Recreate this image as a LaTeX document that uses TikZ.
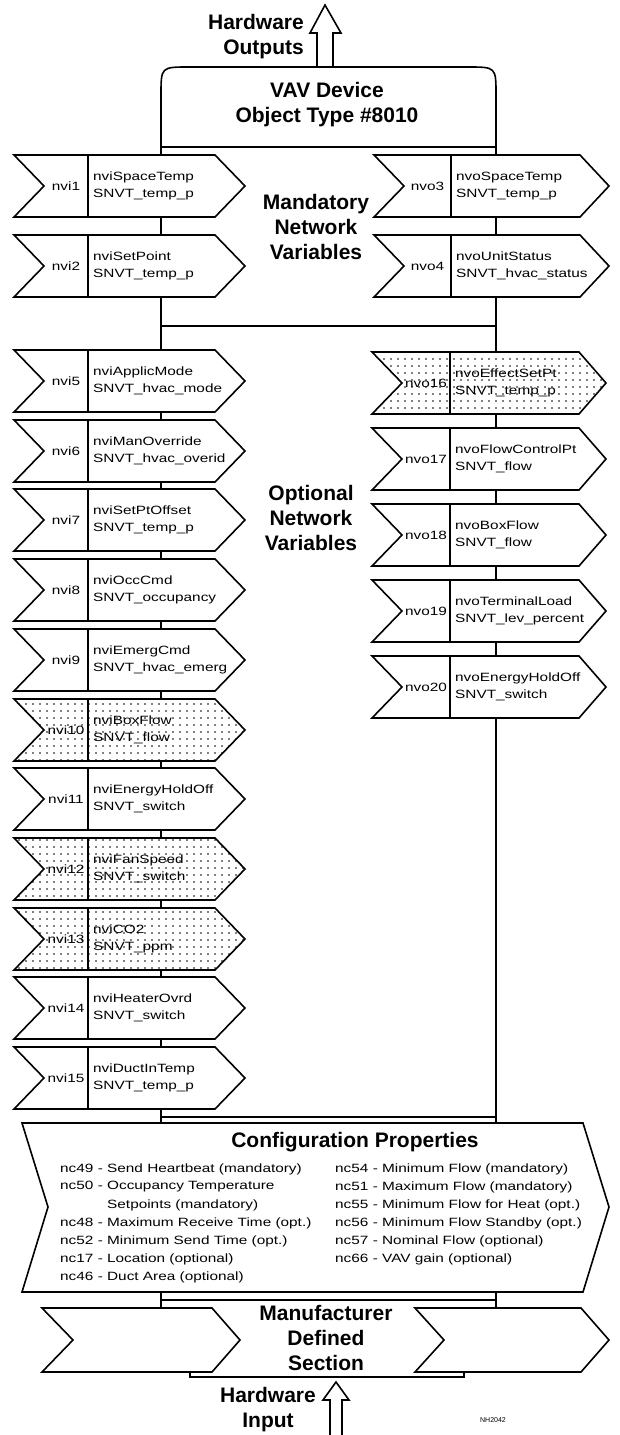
\documentclass[tikz,border=0pt]{standalone}
\usepackage{fontspec}
\setmainfont{Liberation Sans}
\newfontfamily\bxfont[FakeStretch=1.28]{Liberation Sans}
\usetikzlibrary{patterns.meta}
\tikzset{
  ln/.style={line width=1.6pt, line join=miter},
  nvshape/.style={ln, draw=black, fill=white},
  dotshade/.style={postaction={pattern={Dots[distance=6.5pt,radius=0.95pt]}}},
  nvlabel/.style={font=\bxfont\fontsize{12}{14}\selectfont, inner sep=0pt},
  nvtext/.style={font=\bxfont\fontsize{12}{17}\selectfont, align=left, inner sep=0pt, anchor=west},
  head/.style={font=\bfseries\fontsize{21}{25}\selectfont, align=center, inner sep=0pt},
  cfg/.style={font=\bxfont\fontsize{12}{14}\selectfont, inner sep=0pt, anchor=west},
  bus/.style={line width=1.6pt},
}
\newcommand{\nvb}[9]{%
  \pgfmathsetmacro\nvB{#6+62}%
  \pgfmathsetmacro\nvM{#6+31}%
  \pgfmathsetmacro\nvN{#2+30}%
  \pgfmathsetmacro\nvX{(#2+30+#3)/2}%
  \pgfmathsetmacro\nvT{#3+5}%
  \draw[nvshape,#7] (#2,#6) -- (\nvN,\nvM) -- (#2,\nvB) -- (#4,\nvB) -- (#5,\nvM) -- (#4,#6) -- cycle;
  \draw[ln] (#3,#6) -- (#3,\nvB);
  \node[nvlabel] (#1l) at (\nvX,\nvM) {#8};
  \node[nvtext] (#1t) at (\nvT,\nvM) {#9};
}
\begin{document}
\begin{tikzpicture}[x=1pt,y=-1pt]
\useasboundingbox (0,0) rectangle (619,1435);
% bus
\coordinate (bLt) at (161,147);
\coordinate (bLb) at (161,1123);
\coordinate (bRt) at (496,147);
\coordinate (bRb) at (496,1123);
\coordinate (hA1) at (161,326);
\coordinate (hA2) at (496,326);
\coordinate (hB1) at (161,1117);
\coordinate (hB2) at (496,1117);
\draw[bus] (bLt) -- (bLb);
\draw[bus] (bRt) -- (bRb);
\draw[bus] (hA1) -- (hA2);
\draw[bus] (hB1) -- (hB2);
% top arrow
\draw[ln, fill=white] (317,67) -- (317,33) -- (310,33) -- (325,5) -- (341,33) -- (333,33) -- (333,67);
\node[head, align=right, anchor=east] (hwout) at (304,37) {Hardware\\Outputs};
% VAV box
\draw[nvshape] (161,147) -- (161,95) .. controls (161,67) .. (189,67) -- (468,67) .. controls (496,67) .. (496,95) -- (496,147) -- cycle;
\node[head] (vav) at (327,105) {VAV Device\\Object Type \#8010};
% mandatory
\nvb{v1}{14}{88}{215}{245}{155}{}{nvi1}{nviSpaceTemp\\SNVT\_temp\_p}
\nvb{v2}{14}{88}{215}{245}{235}{}{nvi2}{nviSetPoint\\SNVT\_temp\_p}
\nvb{v3}{374}{451}{580}{609}{155}{}{nvo3}{nvoSpaceTemp\\SNVT\_temp\_p}
\nvb{v4}{374}{451}{580}{609}{235}{}{nvo4}{nvoUnitStatus\\SNVT\_hvac\_status}
\node[head] (mand) at (316,227) {Mandatory\\Network\\Variables};
% optional left
\nvb{v5}{14}{88}{215}{245}{350}{}{nvi5}{nviApplicMode\\SNVT\_hvac\_mode}
\nvb{v6}{14}{88}{215}{245}{420}{}{nvi6}{nviManOverride\\SNVT\_hvac\_overid}
\nvb{v7}{14}{88}{215}{245}{489}{}{nvi7}{nviSetPtOffset\\SNVT\_temp\_p}
\nvb{v8}{14}{88}{215}{245}{559}{}{nvi8}{nviOccCmd\\SNVT\_occupancy}
\nvb{v9}{14}{88}{215}{245}{629}{}{nvi9}{nviEmergCmd\\SNVT\_hvac\_emerg}
\nvb{v10}{14}{88}{215}{245}{699}{dotshade}{nvi10}{nviBoxFlow\\SNVT\_flow}
\nvb{v11}{14}{88}{215}{245}{768}{}{nvi11}{nviEnergyHoldOff\\SNVT\_switch}
\nvb{v12}{14}{88}{215}{245}{838}{dotshade}{nvi12}{nviFanSpeed\\SNVT\_switch}
\nvb{v13}{14}{88}{215}{245}{908}{dotshade}{nvi13}{nviCO2\\SNVT\_ppm}
\nvb{v14}{14}{88}{215}{245}{977}{}{nvi14}{nviHeaterOvrd\\SNVT\_switch}
\nvb{v15}{14}{88}{215}{245}{1047}{}{nvi15}{nviDuctInTemp\\SNVT\_temp\_p}
% optional right
\nvb{v16}{372}{450}{579}{606}{352}{dotshade}{nvo16}{nvoEffectSetPt\\SNVT\_temp\_p}
\nvb{v17}{372}{450}{579}{606}{428}{}{nvo17}{nvoFlowControlPt\\SNVT\_flow}
\nvb{v18}{372}{450}{579}{606}{504}{}{nvo18}{nvoBoxFlow\\SNVT\_flow}
\nvb{v19}{372}{450}{579}{606}{580}{}{nvo19}{nvoTerminalLoad\\SNVT\_lev\_percent}
\nvb{v20}{372}{450}{579}{606}{656}{}{nvo20}{nvoEnergyHoldOff\\SNVT\_switch}
\node[head] (opt) at (311,518) {Optional\\Network\\Variables};
% configuration properties
\draw[nvshape] (22,1123) -- (48,1207) -- (22,1292) -- (583,1292) -- (609,1207) -- (583,1123) -- cycle;
\node[head] (cfgt) at (355,1142) {Configuration Properties};
\node[cfg] (c1) at (60,1169) {nc49 - Send Heartbeat (mandatory)};
\node[cfg] (c2) at (60,1187) {nc50 - Occupancy Temperature};
\node[cfg] (c3) at (107,1205) {Setpoints (mandatory)};
\node[cfg] (c4) at (60,1223) {nc48 - Maximum Receive Time (opt.)};
\node[cfg] (c5) at (60,1241) {nc52 - Minimum Send Time (opt.)};
\node[cfg] (c6) at (60,1259) {nc17 - Location (optional)};
\node[cfg] (c7) at (60,1277) {nc46 - Duct Area (optional)};
\node[cfg] (d1) at (335,1169) {nc54 - Minimum Flow (mandatory)};
\node[cfg] (d2) at (335,1187) {nc51 - Maximum Flow (mandatory)};
\node[cfg] (d3) at (335,1205) {nc55 - Minimum Flow for Heat (opt.)};
\node[cfg] (d4) at (335,1223) {nc56 - Minimum Flow Standby (opt.)};
\node[cfg] (d5) at (335,1241) {nc57 - Nominal Flow (optional)};
\node[cfg] (d6) at (335,1259) {nc66 - VAV gain (optional)};
% link to manufacturer section
\coordinate (mL1) at (161,1292);
\coordinate (mL2) at (161,1308);
\coordinate (mR1) at (496,1292);
\coordinate (mR2) at (496,1308);
\coordinate (mH1) at (161,1300);
\coordinate (mH2) at (496,1300);
\draw[bus] (mL1) -- (mL2);
\draw[bus] (mR1) -- (mR2);
\draw[bus] (mH1) -- (mH2);
\draw[ln] (190,1350) -- (190,1377) -- (464,1377) -- (464,1350);
\draw[nvshape] (42,1308) -- (73,1340) -- (42,1372) -- (212,1372) -- (240,1340) -- (212,1308) -- cycle;
\draw[nvshape] (415,1308) -- (444,1340) -- (415,1372) -- (581,1372) -- (609,1340) -- (581,1308) -- cycle;
\node[head] (mfr) at (326,1338) {Manufacturer\\Defined\\Section};
% bottom arrow
\draw[ln, fill=white] (330,1436) -- (330,1400) -- (323,1400) -- (336,1382) -- (349,1400) -- (342,1400) -- (342,1436);
\node[head] (hwin) at (268,1410) {Hardware\\Input};
\node[font=\fontsize{7}{8}\selectfont, inner sep=0pt] (ref) at (493,1420) {NH2042};
\end{tikzpicture}
\end{document}
